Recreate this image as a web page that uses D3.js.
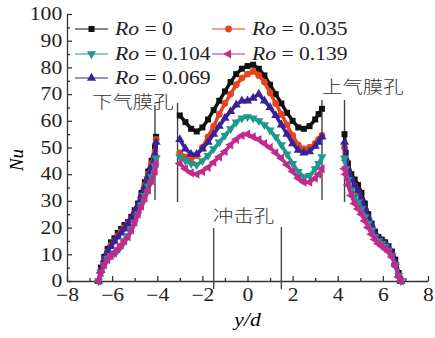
<!DOCTYPE html>
<html>
<head>
<meta charset="utf-8">
<script src="https://cdn.jsdelivr.net/npm/d3@7"></script>
<style>
  body { margin: 0; background: #fff; }
  svg { display: block; }
  .tick text { font-family: "Liberation Serif", serif; font-size: 18px; fill: #222; }
  .domain, .tick line { stroke: #333; stroke-width: 1.3; }
</style>
</head>
<body>
<div id="chart"></div>
<script>
// y/d positions of the three measured segments
var leftX  = [-6.6, -6.5, -6.35, -6.2, -6.05, -5.9, -5.75, -5.6, -5.45, -5.3, -5.15, -5.0, -4.85, -4.7, -4.55, -4.4, -4.25, -4.1, -4.05];
var midX   = [-3.0, -2.75, -2.5, -2.25, -2.0, -1.75, -1.5, -1.25, -1.0, -0.75, -0.5, -0.25, 0, 0.25, 0.5, 0.75, 1.0, 1.25, 1.5, 1.75, 2.0, 2.25, 2.5, 2.75, 3.0, 3.15, 3.3];
var rightX = [4.3, 4.35, 4.45, 4.6, 4.75, 4.9, 5.05, 5.2, 5.35, 5.5, 5.65, 5.8, 5.95, 6.1, 6.25, 6.4, 6.55, 6.7, 6.8];

// Nu values, Ro = 0
var ro0Left  = [0, 5, 9, 12, 14.5, 16, 18, 19.5, 21, 22, 24, 26.5, 29, 33, 37, 41, 45, 50, 54];
var ro0Mid   = [62, 59.5, 57, 56, 57.5, 60.5, 64, 67.5, 71, 74.5, 77.5, 79.5, 80.5, 81, 79.5, 77, 73.5, 70, 66.5, 63, 60, 57.5, 57, 58, 60.5, 62.5, 64.5];
var ro0Right = [55, 48, 44, 40, 38, 36, 33, 29, 25, 21.5, 18.5, 16.5, 15.5, 14.5, 13, 11, 8, 3, 0];
// Ro = 0.035
var ro035Left  = [0, 4, 8, 11, 13.5, 15, 17, 18.5, 20, 21.5, 23, 25.5, 28, 32, 36, 40, 44, 48.5, 53];
var ro035Mid   = [48, 46.5, 46, 47, 50, 54, 58, 62.5, 66.5, 70, 73.5, 76, 77.5, 78.5, 77, 74.5, 70.5, 66.5, 62.5, 58.5, 54.5, 51, 49.5, 50, 51.5, 53, 54.5];
var ro035Right = [50, 45, 41, 38, 35.5, 33, 30, 26.5, 23, 20, 17, 15.5, 14.5, 13.5, 12, 10, 6.5, 2, 0];
// Ro = 0.069
var ro069Left  = [0, 4, 8, 11, 13, 15, 16.5, 18, 19.5, 21.5, 23.5, 26, 28.5, 32, 35.5, 39.5, 43, 47.5, 52];
var ro069Mid   = [53, 49.5, 47.5, 47.5, 49.5, 52, 55, 58, 61, 63.5, 66, 67.5, 67.5, 68.5, 70, 67.5, 65, 62, 58.5, 55, 51.5, 49, 48, 48.5, 50.5, 52, 54];
var ro069Right = [52, 46, 42, 38.5, 36, 34, 31, 27.5, 24, 21, 18, 16, 15, 14, 12.5, 10.5, 7, 2.5, 0];
// Ro = 0.104
var ro104Left  = [0, 3, 6, 8.5, 9.5, 10.5, 11.5, 13, 15, 17, 19.5, 22, 25, 28.5, 32, 35.5, 39, 43, 46];
var ro104Mid   = [46.5, 45, 44, 43.5, 45, 47, 49.5, 52, 54.5, 57, 59.5, 61, 61.5, 61, 60, 58.5, 56.5, 54, 51, 47.5, 44, 41, 39, 39.5, 42, 44, 46.5];
var ro104Right = [46, 42, 38, 34, 31.5, 29.5, 27, 24, 21.5, 19, 16.5, 15, 14, 13, 11.5, 9.5, 6, 2, 0];
// Ro = 0.139
var ro139Left  = [0, 3, 6, 8, 9.5, 10.5, 12, 13.5, 15, 16.5, 19, 22, 25, 28, 31, 34, 37.5, 41, 44];
var ro139Mid   = [44, 42, 40.5, 40, 41, 42.5, 44.5, 46.5, 48.5, 51, 53, 54.5, 55, 54, 53, 51.5, 50, 48, 46, 43.5, 41, 38.5, 37, 37, 38.5, 40, 42];
var ro139Right = [42, 40, 36, 32, 29, 27, 25, 22.5, 20, 17.5, 15.5, 14, 13, 12, 11, 9, 5.5, 1.5, 0];

var roValues = ["0", "0.035", "0.069", "0.104", "0.139"];
var seriesColors = ["#111111", "#e8421f", "#3a2296", "#1d9a8c", "#c12a8e"];
var yTicks = [0, 10, 20, 30, 40, 50, 60, 70, 80, 90, 100];
var xTicks = [-8, -6, -4, -2, 0, 2, 4, 6, 8];

var series = [
    {ro: roValues[0], color: seriesColors[0], shape: "square", segs: [ro0Left, ro0Mid, ro0Right]},
    {ro: roValues[1], color: seriesColors[1], shape: "circle", segs: [ro035Left, ro035Mid, ro035Right]},
    {ro: roValues[2], color: seriesColors[2], shape: "up", segs: [ro069Left, ro069Mid, ro069Right]},
    {ro: roValues[3], color: seriesColors[3], shape: "down", segs: [ro104Left, ro104Mid, ro104Right]},
    {ro: roValues[4], color: seriesColors[4], shape: "left", segs: [ro139Left, ro139Mid, ro139Right]}
];
var segX = [leftX, midX, rightX];

var width = 435, height = 338;
var STRETCH = 1.2;  // the reference text is a bit wide

var x = d3.scaleLinear().domain([-8, 8]).range([67, 428]);
var y = d3.scaleLinear().domain([0, 100]).range([281, 14]);

var svg = d3.select("#chart")
        .append("svg")
        .attr("width", width)
        .attr("height", height);

// axes, ticks pointing into the plot
svg.append("g")
        .attr("transform", "translate(0," + y(0) + ")")
        .call(d3.axisBottom(x).tickValues(d3.range(-7, 8, 2)).tickSize(-3).tickFormat(""))
        .select(".domain").remove();
svg.append("g")
        .attr("transform", "translate(0," + y(0) + ")")
        .call(d3.axisBottom(x).tickValues(xTicks).tickSizeInner(-5).tickSizeOuter(0).tickPadding(7))
        .selectAll("text")
        .attr("transform", "scale(" + STRETCH + ",1)");

svg.append("g")
        .attr("transform", "translate(" + x(-8) + ",0)")
        .call(d3.axisLeft(y).tickValues(d3.range(5, 100, 10)).tickSize(-3).tickFormat(""))
        .select(".domain").remove();
svg.append("g")
        .attr("transform", "translate(" + x(-8) + ",0)")
        .call(d3.axisLeft(y).tickValues(yTicks).tickSizeInner(-5).tickSizeOuter(0).tickPadding(4))
        .selectAll("text")
        .attr("transform", "scale(" + STRETCH + ",1)");

// axis titles
svg.append("text")
        .attr("transform", "translate(23,160) rotate(-90)")
        .attr("text-anchor", "middle")
        .style("font-family", "Liberation Serif, serif")
        .style("font-style", "italic")
        .style("font-size", "19px")
        .text("Nu");
svg.append("text")
        .attr("transform", "translate(" + x(0) + ",326) scale(" + STRETCH + ",1)")
        .attr("text-anchor", "middle")
        .style("font-family", "Liberation Serif, serif")
        .style("font-style", "italic")
        .style("font-size", "18px")
        .text("y/d");

// hole markers
var holeLines = [
    {x: -4.1, y0: 105, y1: 200}, {x: -3.1, y0: 103, y1: 202},
    {x: 3.3, y0: 100, y1: 200}, {x: 4.3, y0: 100, y1: 202},
    {x: -1.5, y0: 228, y1: 289}, {x: 1.5, y0: 227, y1: 289}
];
svg.selectAll(".hole")
        .data(holeLines)
        .enter()
        .append("line")
        .attr("class", "hole")
        .attr("x1", function (d) { return x(d.x); })
        .attr("x2", function (d) { return x(d.x); })
        .attr("y1", function (d) { return d.y0; })
        .attr("y2", function (d) { return d.y1; })
        .attr("stroke", "#444")
        .attr("stroke-width", 1.4);

var holeLabels = [
    {t: "下气膜孔", x: 92, y: 108},
    {t: "上气膜孔", x: 322, y: 93},
    {t: "冲击孔", x: 213, y: 222}
];
svg.selectAll(".hole-label")
        .data(holeLabels)
        .enter()
        .append("text")
        .attr("class", "hole-label")
        .attr("transform", function (d) { return "translate(" + d.x + "," + d.y + ") scale(" + STRETCH + ",1)"; })
        .style("font-family", "Noto Sans CJK SC, sans-serif")
        .style("font-size", "17px")
        .style("font-weight", "300")
        .style("fill", "#333")
        .text(function (d) { return d.t; });

function symbolFor(shape, size) {
    if (shape === "square") return d3.symbol().type(d3.symbolSquare).size(size)();
    if (shape === "circle") return d3.symbol().type(d3.symbolCircle).size(size)();
    return d3.symbol().type(d3.symbolTriangle).size(size)();
}
function rotFor(shape) {
    if (shape === "down") return 180;
    if (shape === "left") return -90;
    return 0;
}

var line = d3.line()
        .x(function (d) { return x(d[0]); })
        .y(function (d) { return y(d[1]); });

series.forEach(function (s) {
    var g = svg.append("g");
    s.segs.forEach(function (vals, i) {
        var pts = vals.map(function (v, j) { return [segX[i][j], v]; });
        g.append("path")
                .attr("d", line(pts))
                .attr("fill", "none")
                .attr("stroke", s.color)
                .attr("stroke-width", 3.5);
        g.selectAll(null)
                .data(pts)
                .enter()
                .append("path")
                .attr("d", symbolFor(s.shape, 36))
                .attr("transform", function (d) {
                    return "translate(" + x(d[0]) + "," + y(d[1]) + ") rotate(" + rotFor(s.shape) + ")";
                })
                .attr("fill", s.color);
    });
});

// legend, two columns
var legendPos = [
    {x: 75, y: 29}, {x: 212, y: 29}, {x: 75, y: 78}, {x: 75, y: 54}, {x: 212, y: 54}
];
series.forEach(function (s, i) {
    var p = legendPos[i];
    var lg = svg.append("g").attr("transform", "translate(" + p.x + "," + p.y + ")");
    lg.append("line")
            .attr("x1", 0).attr("x2", 33)
            .attr("stroke", s.color)
            .attr("stroke-width", 1.2);
    lg.append("path")
            .attr("d", symbolFor(s.shape, 36))
            .attr("transform", "translate(16.5,0) rotate(" + rotFor(s.shape) + ")")
            .attr("fill", s.color);
    var txt = lg.append("text")
            .attr("transform", "translate(40,6) scale(" + STRETCH + ",1)")
            .style("font-family", "Liberation Serif, serif")
            .style("font-size", "18px")
            .style("fill", "#222");
    txt.append("tspan").style("font-style", "italic").text("Ro");
    txt.append("tspan").text(" = " + s.ro);
});
</script>
</body>
</html>
